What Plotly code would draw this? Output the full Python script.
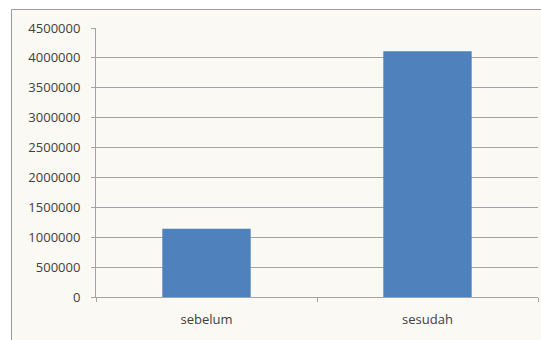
import plotly.graph_objects as go

categories = ["sebelum", "sesudah"]
values = [1140000, 4110000]
y_ticks = [0, 500000, 1000000, 1500000, 2000000, 2500000, 3000000, 3500000, 4000000, 4500000]

fig = go.Figure()
fig.add_trace(go.Bar(x=categories, y=values, marker=dict(color="#4F81BD", line=dict(width=0))))

grid = "#A3A3A3"
font = dict(family="Open Sans", size=13, color="#404040")

fig.update_layout(
    width=541, height=340,
    margin=dict(l=96, r=3, t=28, b=43),
    paper_bgcolor="white",
    plot_bgcolor="rgba(0,0,0,0)",
    bargap=0.6,
    showlegend=False,
    font=font,
    shapes=[dict(type="rect", xref="paper", yref="paper",
                 x0=-0.1912, x1=1.03, y0=-0.2, y1=1.0688,
                 fillcolor="#FAF9F3", line=dict(color="#9A9A9A", width=1),
                 layer="below")],
)
fig.update_xaxes(
    type="category", range=[-0.5, 1.5],
    showline=True, linecolor=grid, linewidth=1,
    ticks="outside", tickson="boundaries", ticklen=4, tickcolor=grid,
    showgrid=False, ticklabelstandoff=10, tickfont=font,
)
fig.update_yaxes(
    range=[0, 4500000], tickvals=y_ticks, tickformat="d",
    showline=True, linecolor=grid, linewidth=1,
    ticks="outside", ticklen=4, tickcolor=grid,
    showgrid=True, gridcolor=grid, gridwidth=1,
    zeroline=False, ticklabelstandoff=8, tickfont=font,
)

fig.write_html("out.html")
